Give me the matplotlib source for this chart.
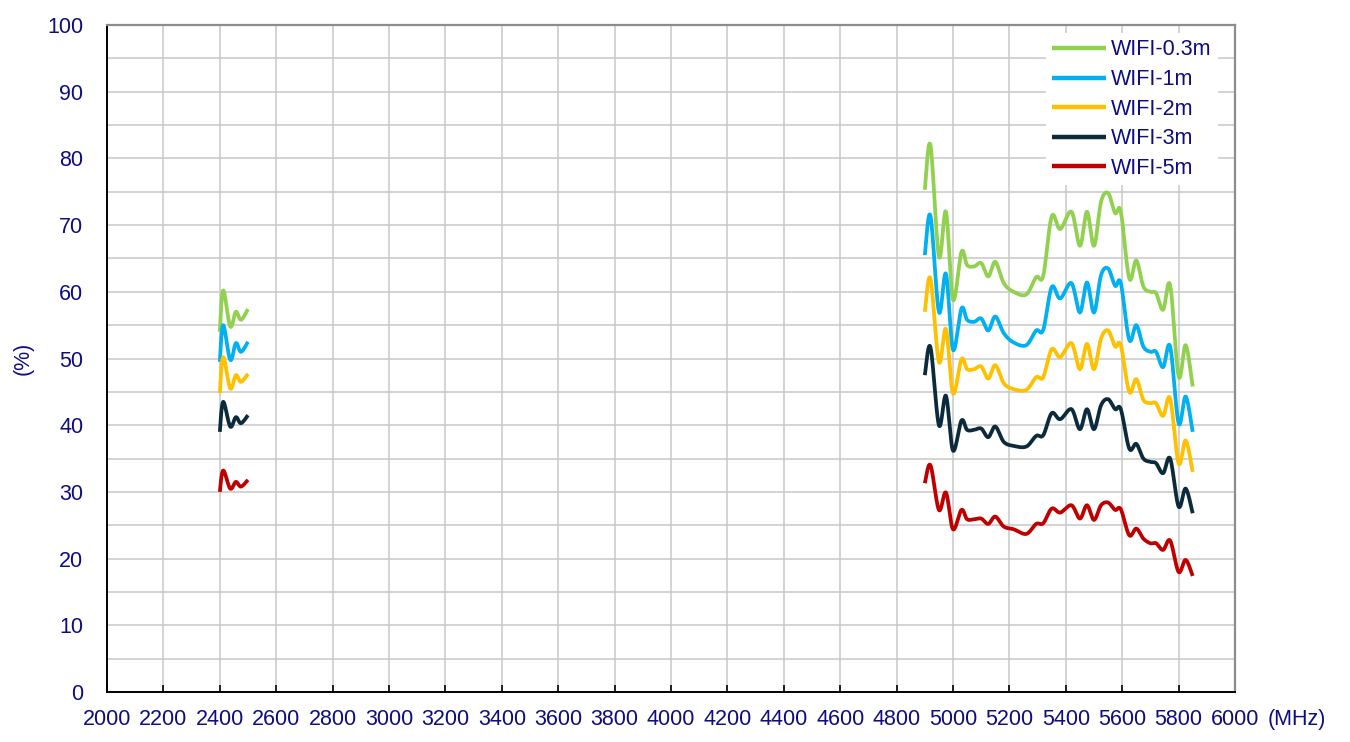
import numpy as np
import matplotlib
matplotlib.use("Agg")
import matplotlib.pyplot as plt

plt.rcParams['font.family'] = ['Liberation Sans', 'DejaVu Sans']

# ---- data ----
freq_24 = [2400, 2412, 2437, 2457, 2475, 2500]
freq_5 = [4900, 4920, 4950, 4975, 5000, 5030, 5050, 5075, 5100, 5125, 5150, 5180,
          5215, 5260, 5295, 5320, 5350, 5380, 5420, 5450, 5475, 5500, 5525, 5550,
          5575, 5595, 5625, 5650, 5675, 5700, 5720, 5745, 5770, 5800, 5825, 5850]

labels = ["WIFI-0.3m", "WIFI-1m", "WIFI-2m", "WIFI-3m", "WIFI-5m"]
colors = ["#92D050", "#00B0F0", "#FFC000", "#0B2A3C", "#C00000"]

w03_24 = [54.0, 60.2, 54.8, 57.0, 55.8, 57.4]
w1_24 = [49.5, 55.0, 49.8, 52.3, 51.0, 52.5]
w2_24 = [44.8, 50.2, 45.5, 47.5, 46.5, 47.7]
w3_24 = [39.0, 43.5, 39.8, 41.2, 40.3, 41.5]
w5_24 = [30.0, 33.2, 30.5, 31.5, 30.8, 31.8]

w03_5 = [75.3, 82.0, 65.3, 72.0, 58.8, 66.0, 64.0, 63.8, 64.3, 62.3, 64.5, 61.3,
         60.0, 59.6, 62.2, 62.4, 71.3, 69.4, 72.0, 66.9, 72.0, 66.9, 73.5, 74.8,
         71.8, 72.0, 62.0, 64.7, 60.8, 60.0, 59.8, 57.3, 61.0, 47.3, 52.0, 45.8]
w1_5 = [65.5, 71.4, 57.0, 62.7, 51.3, 57.5, 55.8, 55.5, 56.0, 54.2, 56.3, 53.8,
        52.4, 52.0, 54.2, 54.3, 60.7, 59.0, 61.3, 56.9, 61.4, 56.9, 62.5, 63.5,
        60.9, 61.3, 52.8, 55.0, 51.8, 51.0, 51.0, 48.7, 51.8, 40.3, 44.3, 39.0]
w2_5 = [57.0, 62.0, 49.5, 54.4, 44.8, 49.9, 48.4, 48.4, 48.8, 47.0, 49.0, 46.3,
        45.4, 45.3, 47.2, 47.2, 51.4, 50.2, 52.3, 48.4, 52.2, 48.4, 53.0, 54.2,
        51.8, 52.0, 45.0, 46.9, 43.8, 43.3, 43.3, 41.4, 44.0, 34.3, 37.7, 33.0]
w3_5 = [47.5, 51.7, 40.0, 44.4, 36.2, 40.7, 39.3, 39.3, 39.5, 38.2, 39.8, 37.5,
        36.9, 36.8, 38.4, 38.5, 41.8, 40.9, 42.4, 39.4, 42.4, 39.4, 43.0, 43.9,
        42.4, 42.4, 36.5, 37.2, 35.0, 34.5, 34.3, 32.8, 35.0, 27.8, 30.5, 26.8]
w5_5 = [31.3, 34.0, 27.3, 29.9, 24.4, 27.3, 25.9, 25.9, 26.0, 25.2, 26.3, 24.8,
        24.4, 23.7, 25.2, 25.3, 27.5, 26.9, 28.0, 26.0, 28.0, 25.8, 28.0, 28.4,
        27.3, 27.4, 23.5, 24.5, 23.0, 22.3, 22.3, 21.3, 22.7, 18.0, 19.8, 17.4]

series_24 = [w03_24, w1_24, w2_24, w3_24, w5_24]
series_5 = [w03_5, w1_5, w2_5, w3_5, w5_5]

x_ticks = list(range(2000, 6001, 200))
y_ticks = list(range(0, 101, 10))

text_color = "#0D0D80"
FS = 15.5


def smooth(xs, ys, n=24):
    """Excel-like smoothed line (Catmull-Rom Bezier) for drawing."""
    P = np.column_stack([xs, ys]).astype(float)
    m = len(P)
    out = [P[0]]
    t = np.linspace(0, 1, n + 1)[1:]
    for i in range(m - 1):
        p0 = P[i]
        p3 = P[i + 1]
        pm = P[i - 1] if i > 0 else P[i]
        pp = P[i + 2] if i + 2 < m else P[i + 1]
        c1 = p0 + (p3 - pm) / 6.0
        c2 = p3 - (pp - p0) / 6.0
        tt = t[:, None]
        seg = ((1 - tt) ** 3) * p0 + 3 * ((1 - tt) ** 2) * tt * c1 \
            + 3 * (1 - tt) * tt ** 2 * c2 + tt ** 3 * p3
        out.extend(seg)
    out = np.array(out)
    return out[:, 0], out[:, 1]


fig = plt.figure(figsize=(13.5, 7.42), dpi=100)
ax = fig.add_axes([107 / 1350, 50 / 742, 1128 / 1350, 667 / 742])

for lab, col, s24, s5 in zip(labels, colors, series_24, series_5):
    x1, y1 = smooth(freq_24, s24)
    ax.plot(x1, y1, color=col, lw=2.7, solid_capstyle='butt', zorder=3, label=lab)
    x2, y2 = smooth(freq_5, s5)
    ax.plot(x2, y2, color=col, lw=2.7, solid_capstyle='butt', zorder=3)

ax.set_xlim(2000, 6000)
ax.set_ylim(0, 100)
ax.set_xticks(x_ticks)
ax.set_yticks(y_ticks)
ax.set_yticks(list(range(5, 100, 10)), minor=True)
ax.grid(True, which='both', color='#C8C8C8', lw=1.1, zorder=0)
ax.set_axisbelow(True)

ax.tick_params(axis='x', which='major', direction='in', length=5, width=1.2,
               color='black', pad=12, labelsize=FS, labelcolor=text_color)
ax.tick_params(axis='y', which='both', length=0, pad=17, labelsize=FS,
               labelcolor=text_color)

for side in ['left', 'bottom']:
    ax.spines[side].set_color('black')
    ax.spines[side].set_linewidth(1.4)
for side in ['top', 'right']:
    ax.spines[side].set_color('#8C8C8C')
    ax.spines[side].set_linewidth(1.6)

ax.set_ylabel('(%)', color=text_color, fontsize=FS, labelpad=10)
ax.text(1.0285, -0.026, '(MHz)', transform=ax.transAxes, ha='left', va='top',
        color=text_color, fontsize=FS)

leg = ax.legend(loc='upper left', bbox_to_anchor=(0.8324, 0.988), frameon=True,
                fontsize=FS, handlelength=2.5, handletextpad=0.23,
                labelspacing=0.40, borderpad=0.3, borderaxespad=0.0,
                fancybox=False)
leg.get_frame().set_edgecolor('none')
leg.get_frame().set_facecolor('white')
leg.get_frame().set_alpha(1.0)
for t in leg.get_texts():
    t.set_color(text_color)
for h in leg.legend_handles:
    h.set_linewidth(3.2)

fig.savefig('out.png', dpi=100)
